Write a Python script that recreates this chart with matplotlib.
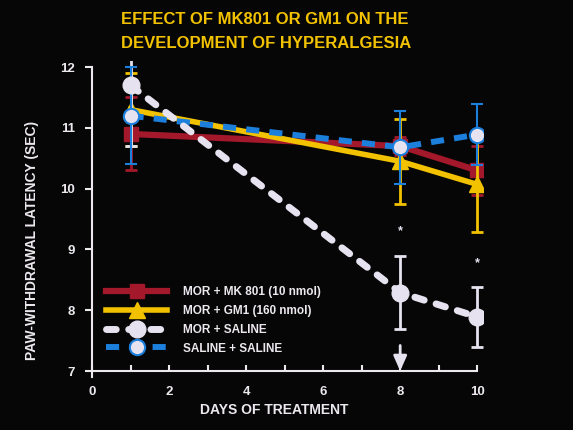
import numpy as np
import matplotlib
matplotlib.use('Agg')
import matplotlib.pyplot as plt

days = [1, 8, 10]

# paw-withdrawal latency (sec), mean and SEM
mk801 = [10.9, 10.7, 10.3]
mk801_err = [0.6, 0.15, 0.4]
gm1 = [11.3, 10.45, 10.07]
gm1_err = [0.6, 0.7, 0.78]
mor_sal = [11.7, 8.29, 7.89]
mor_sal_err = [1.0, 0.6, 0.5]
sal_sal = [11.2, 10.68, 10.89]
sal_sal_err = [0.8, 0.6, 0.5]

labels = ['MOR + MK 801 (10 nmol)', 'MOR + GM1 (160 nmol)', 'MOR + SALINE', 'SALINE + SALINE']
star_days = [8, 10]
star_vals = [9.3, 8.77]

BG = '#060606'
RED = '#a3182a'
YEL = '#f2c200'
WHT = '#e6e2f0'
BLU = '#1c7fdc'
TXT = '#ece8ee'

plt.rcParams['font.family'] = ['Liberation Sans', 'DejaVu Sans']
plt.rcParams['font.weight'] = 'bold'

fig = plt.figure(figsize=(5.73, 4.30), dpi=100, facecolor=BG)
ax = fig.add_axes([92/573, 1-371/430, 391/573, 310/430])
ax.set_facecolor(BG)
ax.set_xlim(0, 10.15)
ax.set_ylim(7, 12.1)

# error bars
ax.errorbar(days, mk801, yerr=mk801_err, fmt='none', ecolor=RED, elinewidth=2, capsize=4, capthick=2, zorder=2)
ax.errorbar(days, gm1, yerr=gm1_err, fmt='none', ecolor=YEL, elinewidth=2, capsize=4, capthick=2, zorder=3)
ax.errorbar(days, mor_sal, yerr=mor_sal_err, fmt='none', ecolor=WHT, elinewidth=2, capsize=4, capthick=2, zorder=4)
ax.errorbar(days, sal_sal, yerr=sal_sal_err, fmt='none', ecolor=BLU, elinewidth=1.5, capsize=4, capthick=1.5, zorder=5)

# lines with markers
l1, = ax.plot(days, mk801, color=RED, lw=4.5, marker='s', ms=10, mfc=RED, mec=RED, zorder=2.5)
l2, = ax.plot(days, gm1, color=YEL, lw=4, marker='^', ms=11, mfc=YEL, mec=YEL, zorder=3.5)
l3, = ax.plot(days, mor_sal, color=WHT, lw=5, marker='o', ms=12, mfc=WHT, mec=WHT,
              dashes=(1.4, 1.8), dash_capstyle='round', zorder=6)
l4, = ax.plot(days, sal_sal, color=BLU, lw=4.3, marker='o', ms=11, mfc=WHT, mec=BLU, mew=1.5,
              dashes=(2.2, 1.7), zorder=5.5)

for d, v in zip(star_days, star_vals):
    ax.text(d, v, '*', color=WHT, fontsize=9, ha='center', va='center', zorder=7)

# arrow marking day 8
ax.annotate('', xy=(8, 7.0), xytext=(8, 7.42),
            arrowprops=dict(arrowstyle='-|>,head_width=0.4,head_length=0.9', color=WHT, lw=2,
                            shrinkA=0, shrinkB=0), zorder=7)

# axes styling
for s in ['top', 'right']:
    ax.spines[s].set_visible(False)
ax.spines['left'].set_color(TXT)
ax.spines['bottom'].set_color(TXT)
ax.spines['left'].set_linewidth(1.5)
ax.spines['bottom'].set_linewidth(1.5)
ax.spines['left'].set_bounds(6.9, 12)
ax.spines['bottom'].set_bounds(0, 10)

ax.set_yticks([7, 8, 9, 10, 11, 12])
ax.set_xticks([0, 2, 4, 6, 8, 10])
ax.set_xticks([1, 3, 5, 7, 9], minor=True)
ax.tick_params(axis='y', direction='out', length=5, width=1.5, color=TXT, labelcolor=TXT, labelsize=9.5, pad=7)
ax.tick_params(axis='x', which='both', direction='in', length=4, width=1.5, color=TXT, labelcolor=TXT, labelsize=9.5, pad=11)

fig.text(32/573, 1-240/430, 'PAW-WITHDRAWAL LATENCY (SEC)', rotation=90, color=TXT, fontsize=10,
         ha='center', va='center')
fig.text(274/573, 1-410/430, 'DAYS OF TREATMENT', color=TXT, fontsize=10, ha='center', va='center')

fig.text(121/573, 1-20/430, 'EFFECT OF MK801 OR GM1 ON THE', color=YEL, fontsize=12, ha='left', va='center')
fig.text(121/573, 1-44/430, 'DEVELOPMENT OF HYPERALGESIA', color=YEL, fontsize=12, ha='left', va='center')

ax.legend([l1, l2, l3, l4], labels, loc='upper left', bbox_to_anchor=(14/391, 1-(286-61)/310),
          frameon=False, fontsize=8.5, labelcolor=TXT, numpoints=1, handlelength=5.2,
          handletextpad=1.3, labelspacing=0.58, borderaxespad=0, borderpad=0)

plt.savefig('out.png', dpi=100, facecolor=BG)
